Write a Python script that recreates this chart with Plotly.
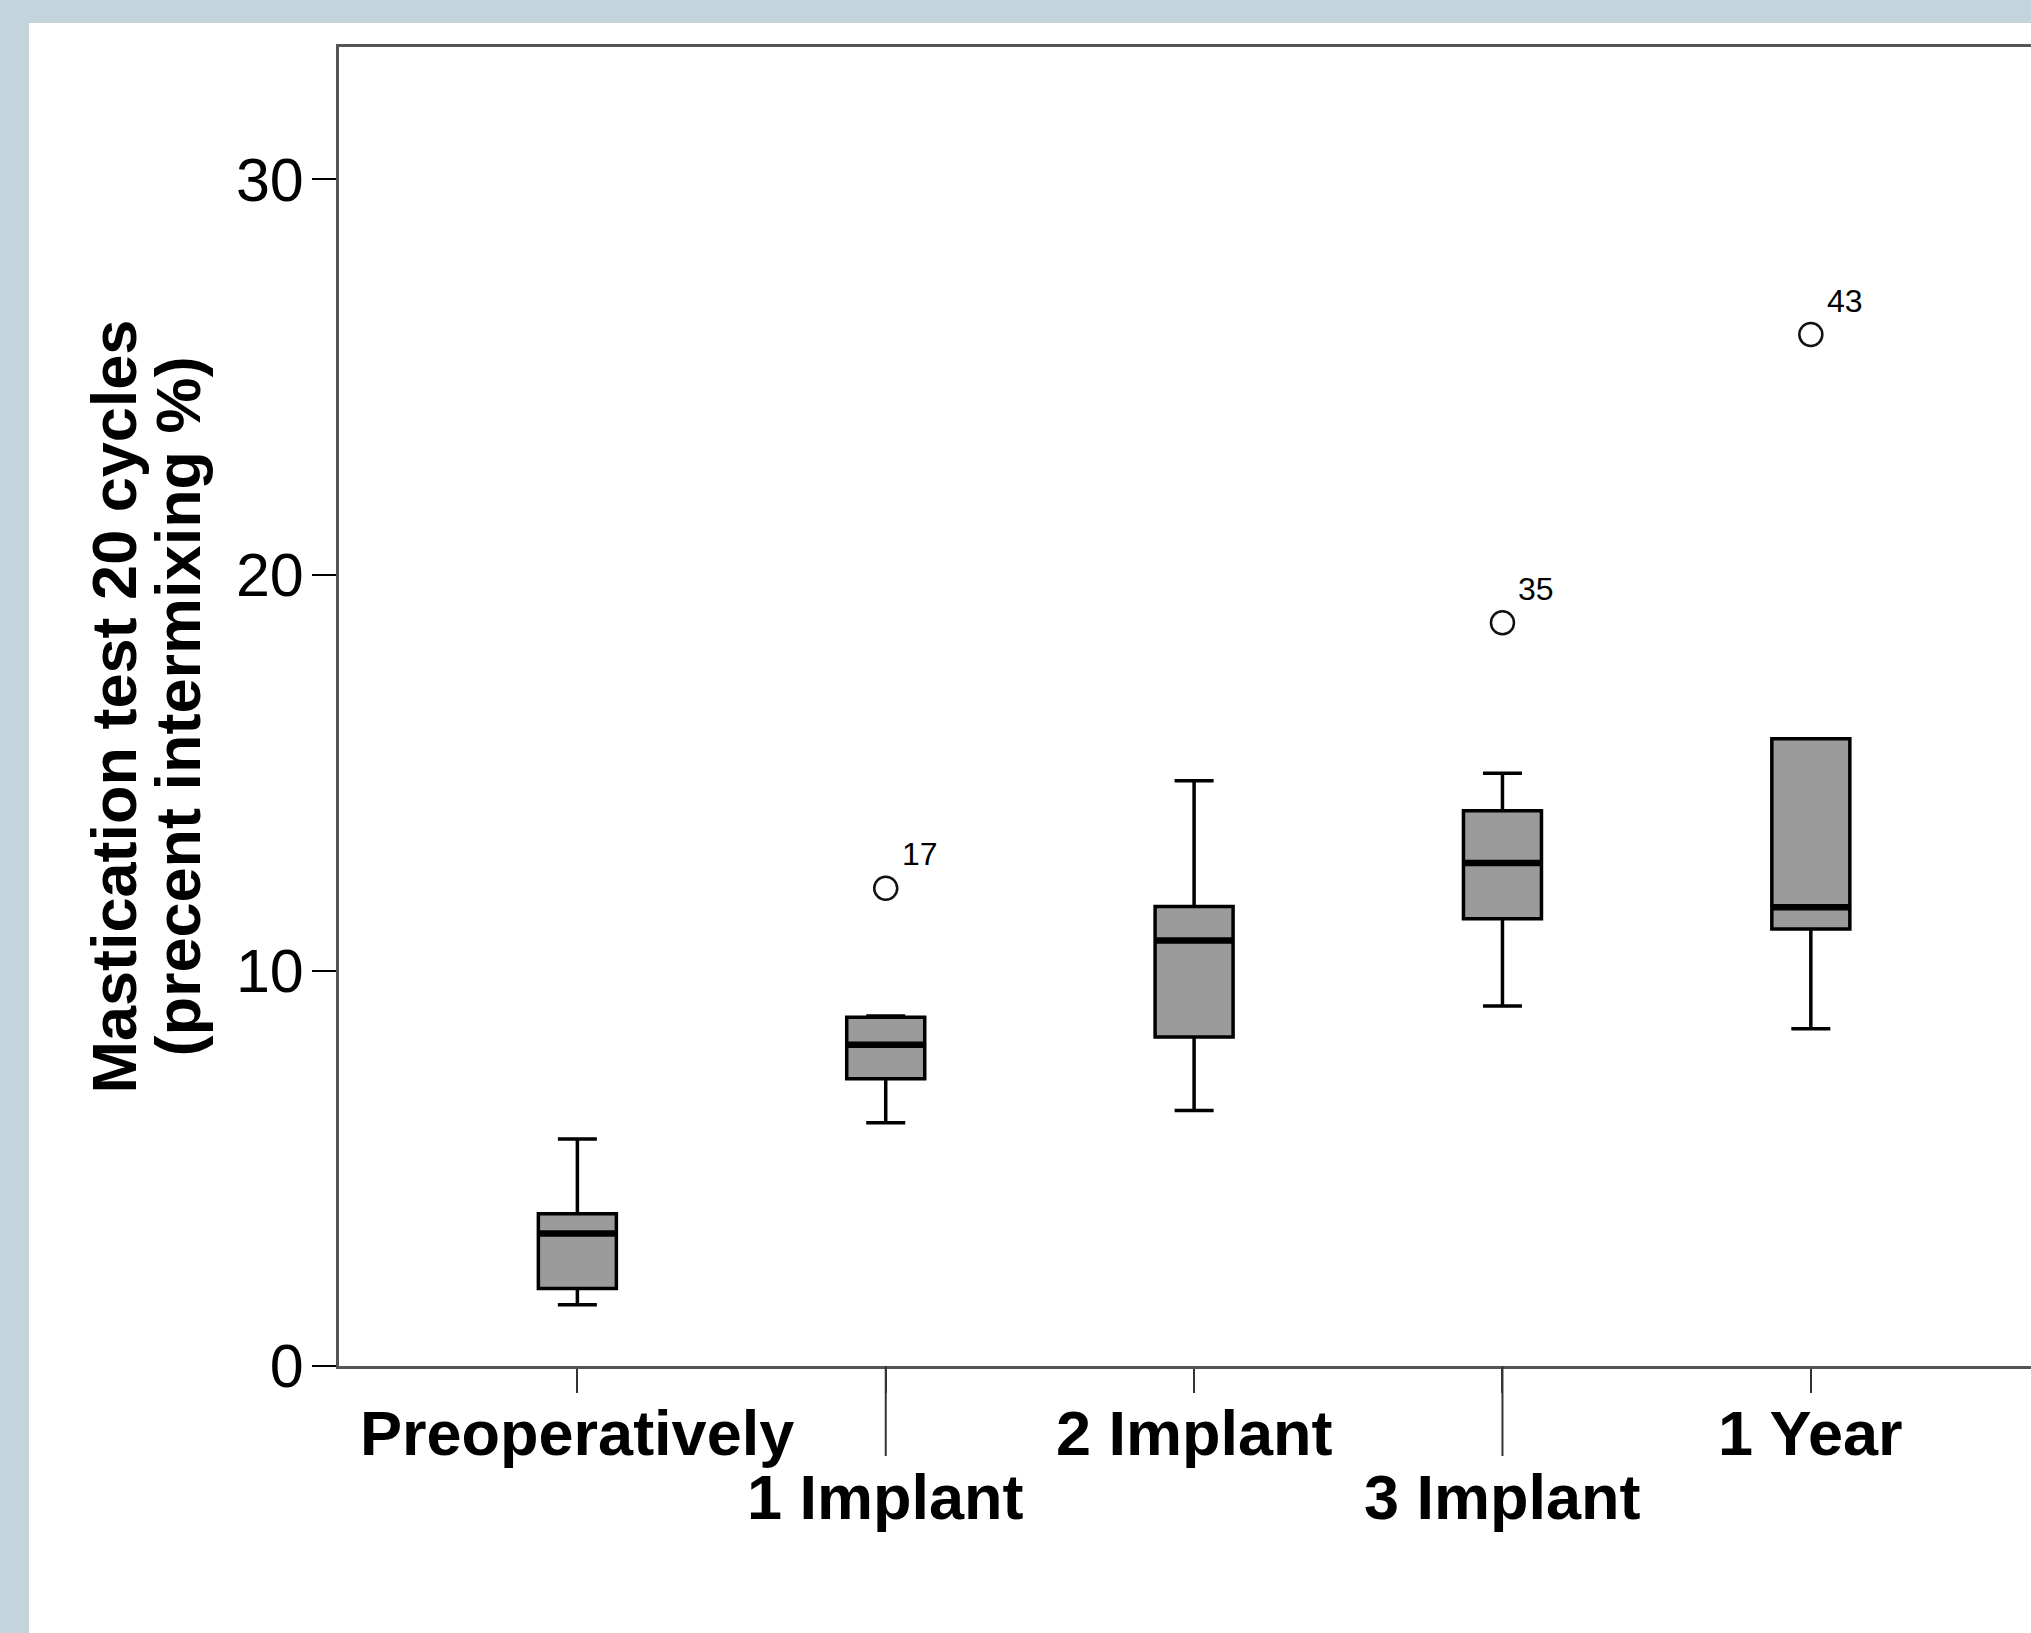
import plotly.graph_objects as go

# dati
categories = ["Preoperatively", "1 Implant", "2 Implant", "3 Implant", "1 Year"]
q1 = [1.96, 7.26, 8.32, 11.31, 11.05]
medians = [3.35, 8.12, 10.76, 12.72, 11.60]
q3 = [3.85, 8.82, 11.62, 14.04, 15.86]
lower_whisker = [1.55, 6.15, 6.46, 9.10, 8.53]
upper_whisker = [5.74, 8.85, 14.80, 14.99, 15.86]

outlier_cat = [1, 3, 4]
outlier_val = [12.08, 18.79, 26.08]
outlier_ids = ["17", "35", "43"]

y_ticks = [0, 10, 20, 30]
y_title = ["Mastication test 20 cycles", "(precent intermixing %)"]

W, H = 2031, 1633
ML, MT, MB = 339, 47, 267
BOX_W = 0.253
FONT = "Liberation Sans, Arial, sans-serif"
BG_BLUE = "#c4d4dc"

xs = list(range(len(categories)))

fig = go.Figure()
fig.add_trace(go.Box(
    x=xs, q1=q1, median=medians, q3=q3,
    lowerfence=lower_whisker, upperfence=upper_whisker,
    width=BOX_W, whiskerwidth=0.5, boxpoints=False,
    fillcolor="#9b9b9b", line=dict(color="black", width=3.5),
    showlegend=False, hoverinfo="skip",
))

# linea mediana piu spessa
mx, my = [], []
for i, m in zip(xs, medians):
    mx += [i - BOX_W / 2, i + BOX_W / 2, None]
    my += [m, m, None]
fig.add_trace(go.Scatter(x=mx, y=my, mode="lines", line=dict(color="black", width=6.5),
                         showlegend=False, hoverinfo="skip"))

fig.add_trace(go.Scatter(
    x=outlier_cat, y=outlier_val, mode="markers",
    marker=dict(symbol="circle-open", size=23, color="#111", line=dict(width=2.5)),
    showlegend=False, hoverinfo="skip",
))

annotations = []
for xi, yi, lab in zip(outlier_cat, outlier_val, outlier_ids):
    annotations.append(dict(x=xi, y=yi, xref="x", yref="y", text=lab, showarrow=False,
                            xanchor="left", yanchor="middle", xshift=14, yshift=34,
                            font=dict(family=FONT, size=32, color="black")))

# etichette asse x sfalsate
for i, lab in enumerate(categories):
    annotations.append(dict(x=i, y=0, xref="x", yref="paper", text="<b>%s</b>" % lab,
                            showarrow=False, xanchor="center", yanchor="top",
                            yshift=-30 - (64 if i % 2 else 0),
                            font=dict(family=FONT, size=63, color="black")))

# titolo asse y su due righe
for k, line in enumerate(y_title):
    annotations.append(dict(x=0, y=0.5, xref="paper", yref="paper", text="<b>%s</b>" % line,
                            showarrow=False, textangle=-90, xanchor="center", yanchor="middle",
                            xshift=-226 + 64 * k,
                            font=dict(family=FONT, size=63, color="black")))

shapes = [
    dict(type="rect", xref="paper", yref="paper", x0=-ML / (W - ML), x1=(29 - ML) / (W - ML),
         y0=-MB / (H - MT - MB), y1=1 + MT / (H - MT - MB), fillcolor=BG_BLUE, line=dict(width=0)),
    dict(type="rect", xref="paper", yref="paper", x0=-ML / (W - ML), x1=1,
         y0=1 + (MT - 23) / (H - MT - MB), y1=1 + MT / (H - MT - MB), fillcolor=BG_BLUE, line=dict(width=0)),
]
# tacche lunghe per le etichette della seconda riga
for i in xs:
    if i % 2:
        shapes.append(dict(type="line", xref="x", yref="paper", x0=i, x1=i, y0=0,
                           y1=-90 / (H - MT - MB), line=dict(color="#333", width=2)))

fig.update_layout(
    width=W, height=H,
    margin=dict(l=ML, r=0, t=MT, b=MB, pad=0),
    paper_bgcolor="white", plot_bgcolor="white",
    font=dict(family=FONT, color="black"),
    annotations=annotations, shapes=shapes,
    xaxis=dict(range=[-0.773, 4.714], tickvals=xs, showticklabels=False,
               ticks="outside", ticklen=24, tickwidth=2, tickcolor="#333",
               showline=True, linecolor="#555", linewidth=3, mirror=True,
               showgrid=False, zeroline=False, fixedrange=True),
    yaxis=dict(range=[0, 33.35], tickvals=y_ticks, tickfont=dict(size=61, family=FONT),
               ticks="outside", ticklen=24, tickwidth=2, tickcolor="black",
               ticklabelstandoff=-4,
               showline=True, linecolor="#555", linewidth=3, mirror=False,
               showgrid=False, zeroline=False, fixedrange=True),
)

# togliere il margine di default della pagina
fig.write_html("out.html", config={"displayModeBar": False},
               post_script="document.body.style.margin='0';document.body.style.overflow='hidden';")
